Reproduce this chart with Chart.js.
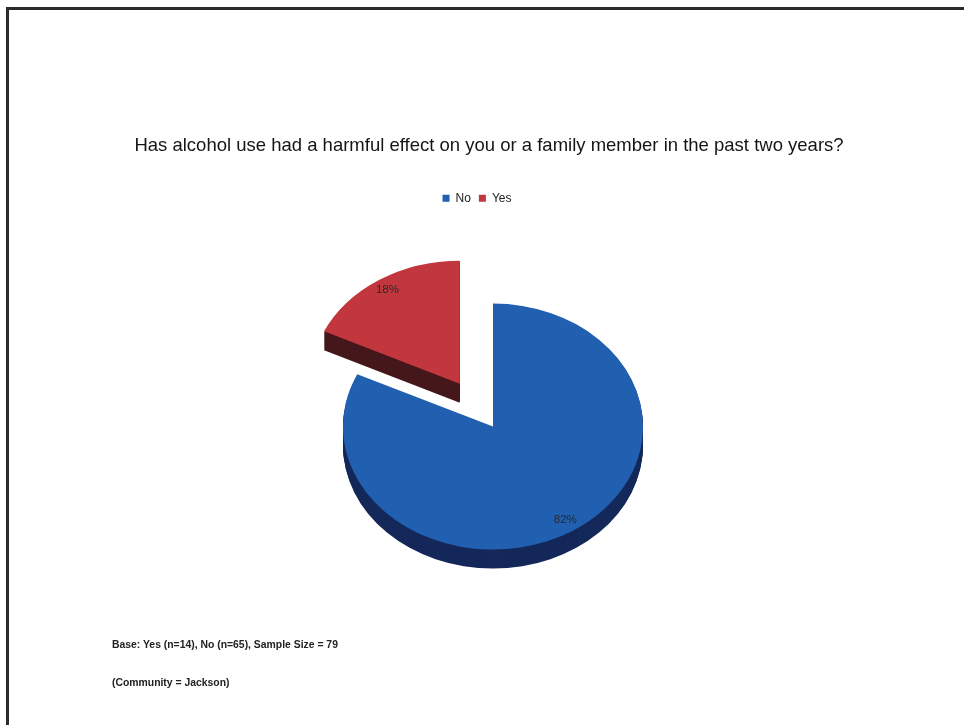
<!DOCTYPE html>
<html>
<head>
<meta charset="utf-8">
<script src="https://cdn.jsdelivr.net/npm/chart.js@4.4.1/dist/chart.umd.min.js"></script>
<style>
  html, body { margin: 0; padding: 0; background: #fff; }
  #frame {
    position: absolute; left: 6px; top: 7px; width: 958px; height: 718px;
    border-top: 3px solid #2b2b2b; border-left: 3px solid #2b2b2b;
  }
  #wrap { position: absolute; left: 0; top: 0; width: 964px; height: 725px; }
  .note {
    position: absolute; left: 112px; font-family: "Liberation Sans", Arial, sans-serif;
    font-size: 10.4px; font-weight: bold; color: #222;
  }
</style>
</head>
<body>
<div id="frame"></div>
<div id="wrap"><canvas id="myChart" width="964" height="725"></canvas></div>
<div class="note" style="top:639px">Base: Yes (n=14), No (n=65), Sample Size = 79</div>
<div class="note" style="top:677px">(Community = Jackson)</div>
<script>
const titleText = 'Has alcohol use had a harmful effect on you or a family member in the past two years?'
const categories = ['No', 'Yes']
const percentages = [82, 18]
const pctLabels = ['82%', '18%']

const topColors = ['#215fb0', '#c2373e']
const sideColors = ['#14285a', '#45181c']
const explode = [0, 62]   // how far each slice is pulled out
const tilt = 0.82          // vertical squash for the 3d look
const depth = 19

// fake 3d: squash the pie, draw a dark extruded side under each slice
const pie3d = {
    id: 'pie3d',
    afterLayout(chart) {
        // legend and title sit a bit left of the pie in the original
        chart.legend.left -= 16
        chart.legend.right -= 16
        chart.titleBlock.left -= 4
        chart.titleBlock.right -= 4
    },
    afterDatasetsUpdate(chart) {
        let meta = chart.getDatasetMeta(0)
        meta.data.forEach((arc, i) => {
            if (!explode[i]) return
            let mid = (arc.startAngle + arc.endAngle) / 2
            arc.x += Math.cos(mid) * explode[i]
            arc.y += Math.sin(mid) * explode[i]
        })
    },
    beforeDatasetsDraw(chart) {
        let {ctx, chartArea} = chart
        let cx = (chartArea.left + chartArea.right) / 2
        let cy = (chartArea.top + chartArea.bottom) / 2
        ctx.save()
        ctx.translate(cx, cy)
        ctx.scale(1, tilt)
        ctx.translate(-cx, -cy)
        chart.getDatasetMeta(0).data.forEach((arc, i) => {
            ctx.fillStyle = sideColors[i]
            for (let k = depth; k > 0; k--) {
                let y = arc.y + k / tilt
                ctx.beginPath()
                ctx.moveTo(arc.x, y)
                ctx.arc(arc.x, y, arc.outerRadius, arc.startAngle, arc.endAngle)
                ctx.closePath()
                ctx.fill()
            }
        })
    },
    afterDatasetsDraw(chart) {
        let {ctx, chartArea} = chart
        ctx.restore()
        let cy = (chartArea.top + chartArea.bottom) / 2
        ctx.save()
        ctx.font = '11.5px "Liberation Sans", Arial, sans-serif'
        ctx.fillStyle = '#2a2a2a'
        ctx.textAlign = 'center'
        ctx.textBaseline = 'middle'
        chart.getDatasetMeta(0).data.forEach((arc, i) => {
            let mid = (arc.startAngle + arc.endAngle) / 2
            let r = arc.outerRadius * 0.9
            let x = arc.x + Math.cos(mid) * r
            let y = cy + (arc.y + Math.sin(mid) * r - cy) * tilt
            ctx.fillText(pctLabels[i], x, y)
        })
        ctx.restore()
    }
}

let ctx = document.getElementById('myChart')

let mychart = new Chart(ctx, {
    type: 'pie',
    data: {
        labels: categories,
        datasets: [{
            data: percentages,
            backgroundColor: topColors,
            borderWidth: 0,
            clip: false
        }]
    },
    options: {
        responsive: false,
        animation: false,
        radius: 150,
        layout: {
            padding: { left: 22, right: 0, top: 0, bottom: 86 }
        },
        plugins: {
            title: {
                display: true,
                text: titleText,
                color: '#151515',
                font: { family: '"Liberation Sans", Arial, sans-serif', size: 18.5, weight: 'normal' },
                padding: { top: 135, bottom: 27 }
            },
            legend: {
                position: 'top',
                labels: {
                    boxWidth: 7,
                    boxHeight: 7,
                    padding: 8,
                    color: '#222',
                    font: { family: '"Liberation Sans", Arial, sans-serif', size: 12 }
                }
            },
            tooltip: { enabled: false }
        }
    },
    plugins: [pie3d]
})
</script>
</body>
</html>
